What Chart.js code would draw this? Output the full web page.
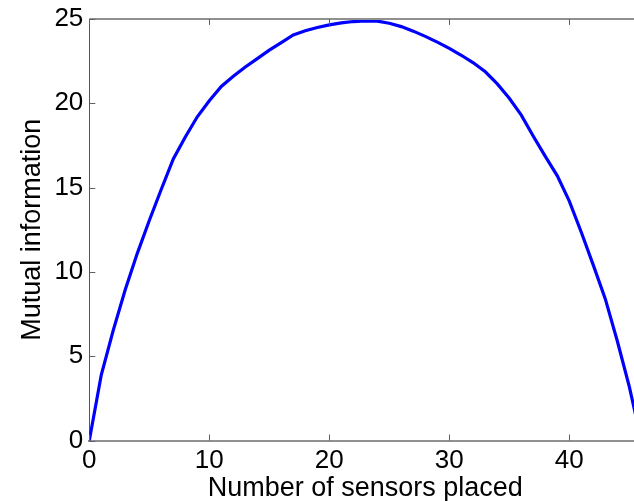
<!DOCTYPE html>
<html>
<head>
<meta charset="utf-8">
<script src="https://cdn.jsdelivr.net/npm/chart.js@4/dist/chart.umd.min.js"></script>
<style>
  html, body { margin: 0; padding: 0; background: #ffffff; overflow: hidden; width: 634px; height: 501px; }
  #wrap { position: relative; width: 660px; height: 501px; }
</style>
</head>
<body>
<div id="wrap"><canvas id="c" width="660" height="501"></canvas></div>
<script>
// ---- data ----
const sensorsPlaced = [0,1,2,3,4,5,6,7,8,9,10,11,12,13,14,15,16,17,18,19,20,21,22,23,24,25,26,27,28,29,30,31,32,33,34,35,36,37,38,39,40,41,42,43,44,45,46];
const mutualInfo = [0, 3.9, 6.55, 8.95, 11.1, 13.05, 14.9, 16.7, 18.0, 19.2, 20.15, 21.0, 21.6, 22.15, 22.65, 23.15, 23.6, 24.05, 24.3, 24.5, 24.65, 24.77, 24.85, 24.88, 24.87, 24.75, 24.55, 24.28, 23.97, 23.63, 23.26, 22.85, 22.4, 21.87, 21.15, 20.3, 19.3, 18.05, 16.85, 15.7, 14.2, 12.35, 10.4, 8.4, 5.9, 3.2, 0];
const xTickValues = [0, 10, 20, 30, 40];
const yTickValues = [0, 5, 10, 15, 20, 25];
const xTitle = 'Number of sensors placed';
const yTitle = 'Mutual information';

const points = sensorsPlaced.map((x, i) => ({ x: x, y: mutualInfo[i] }));
const FONT = '"Liberation Sans", Arial, Helvetica, sans-serif';

const axisPlugin = {
  id: 'matlabAxes',
  afterDatasetsDraw(chart) {
    const ctx = chart.ctx;
    const a = chart.chartArea;
    const xs = chart.scales.x, ys = chart.scales.y;
    ctx.save();
    // top border
    ctx.strokeStyle = '#909090';
    ctx.lineWidth = 2;
    ctx.beginPath();
    ctx.moveTo(a.left, a.top);
    ctx.lineTo(a.right, a.top);
    ctx.stroke();
    // inward ticks
    ctx.strokeStyle = '#606060';
    ctx.lineWidth = 1;
    ctx.beginPath();
    xTickValues.forEach(v => {
      const px = Math.round(xs.getPixelForValue(v)) + 0.5;
      ctx.moveTo(px, a.bottom);
      ctx.lineTo(px, a.bottom - 6);
      ctx.moveTo(px, a.top);
      ctx.lineTo(px, a.top + 6);
    });
    yTickValues.forEach(v => {
      const py = Math.round(ys.getPixelForValue(v)) + 0.5;
      ctx.moveTo(a.left, py);
      ctx.lineTo(a.left + 6, py);
      ctx.moveTo(a.right, py);
      ctx.lineTo(a.right - 6, py);
    });
    ctx.stroke();
    ctx.restore();
  }
};

new Chart(document.getElementById('c'), {
  type: 'line',
  data: {
    datasets: [{
      data: points,
      borderColor: '#0000ff',
      borderWidth: 3.2,
      pointRadius: 0,
      tension: 0,
      fill: false
    }]
  },
  options: {
    responsive: false,
    animation: false,
    layout: { padding: { left: 0, top: 19, right: 18.7, bottom: 0 } },
    plugins: { legend: { display: false }, tooltip: { enabled: false } },
    scales: {
      x: {
        type: 'linear',
        min: 0,
        max: 46,
        afterBuildTicks: (s) => { s.ticks = xTickValues.map(v => ({ value: v })); },
        afterFit: (s) => { s.height = 60.5; },
        grid: { display: false, drawTicks: false },
        border: { display: true, color: '#909090', width: 2 },
        ticks: {
          padding: 7,
          color: '#000000',
          maxRotation: 0,
          font: { family: FONT, size: 26, lineHeight: 1 }
        },
        title: {
          display: true,
          text: xTitle,
          color: '#000000',
          padding: { top: 0, bottom: -1 },
          font: { family: FONT, size: 27, lineHeight: 1 }
        }
      },
      y: {
        type: 'linear',
        min: 0,
        max: 25,
        afterBuildTicks: (s) => { s.ticks = yTickValues.map(v => ({ value: v })); },
        afterFit: (s) => { s.width = 89.3; },
        grid: { display: false, drawTicks: false },
        border: { display: true, color: '#555555', width: 1 },
        ticks: {
          padding: 6,
          color: '#000000',
          font: { family: FONT, size: 26, lineHeight: 1 }
        },
        title: {
          display: true,
          text: yTitle,
          color: '#000000',
          padding: { top: 19.5, bottom: 0 },
          font: { family: FONT, size: 27, lineHeight: 1 }
        }
      }
    }
  },
  plugins: [axisPlugin]
});
</script>
</body>
</html>
